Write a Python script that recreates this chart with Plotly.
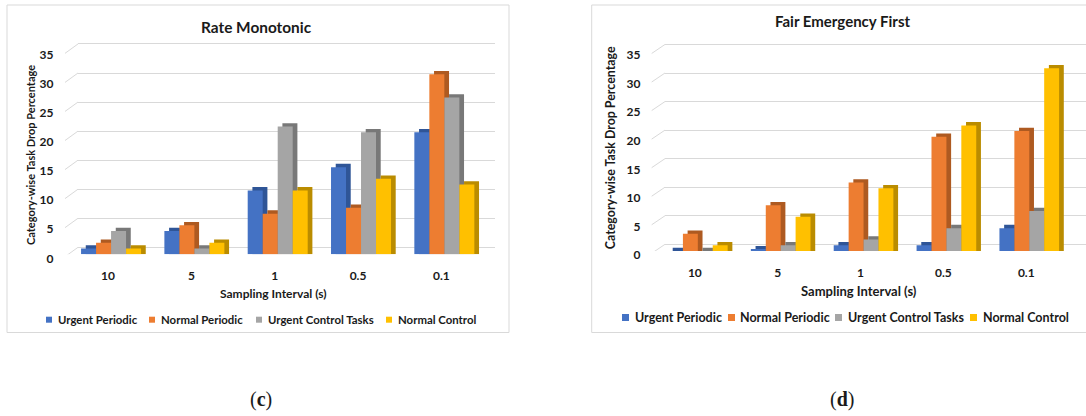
import plotly.graph_objects as go

W, H = 1086, 416

# ---------------- data ----------------
categories = ["10", "5", "1", "0.5", "0.1"]
series_names = ["Urgent Periodic", "Normal Periodic", "Urgent Control Tasks", "Normal Control"]

rm_urgent_periodic = [1, 4, 11, 15, 21]
rm_normal_periodic = [2, 5, 7, 8, 31]
rm_urgent_control = [4, 1, 22, 21, 27]
rm_normal_control = [1, 2, 11, 13, 12]

fef_urgent_periodic = [0, 0.3, 1, 1, 4]
fef_normal_periodic = [3, 8, 12, 20, 21]
fef_urgent_control = [0, 1, 2, 4, 7]
fef_normal_control = [1, 6, 11, 22, 32]

y_tick_values = [0, 5, 10, 15, 20, 25, 30, 35]

front_colors = ["#4472C4", "#ED7D31", "#A5A5A5", "#FFC000"]
side_colors = ["#2F5597", "#AE5A21", "#787878", "#BA8C00"]

TXT = "#1a1a1a"
FONT = "Lato"


def px_x(p):
    return p / W


def px_y(p):
    return (H - p) / H


fig = go.Figure()
BAR_W = 0.18


def add_panel(series, xa_bar, ya_bar, depth_x, depth_y):
    for i, (name, vals) in enumerate(zip(series_names, series)):
        off = -2 * BAR_W + i * BAR_W
        # darker side/top faces: same bar pushed back by the 3-D depth
        fig.add_trace(go.Bar(
            x=categories, y=[v + depth_y for v in vals], base=0,
            offset=off + depth_x, width=BAR_W,
            marker=dict(color=side_colors[i], line=dict(width=0)),
            xaxis=xa_bar, yaxis=ya_bar, showlegend=False, hoverinfo="skip",
        ))
        fig.add_trace(go.Bar(
            x=categories, y=vals, offset=off, width=BAR_W, name=name,
            marker=dict(color=front_colors[i], line=dict(width=0)),
            xaxis=xa_bar, yaxis=ya_bar, showlegend=False,
        ))


# grid-only subplots first so they sit underneath the bars
fig.add_trace(go.Scatter(x=[], y=[], xaxis="x", yaxis="y", showlegend=False))
rm_series = [rm_urgent_periodic, rm_normal_periodic, rm_urgent_control, rm_normal_control]
fef_series = [fef_urgent_periodic, fef_normal_periodic, fef_urgent_control, fef_normal_control]
add_panel(rm_series, "x2", "y2", 0.0564, 0.568)
fig.add_trace(go.Scatter(x=[], y=[], xaxis="x3", yaxis="y3", showlegend=False))
add_panel(fef_series, "x4", "y4", 0.0567, 0.578)

L_top, L_base, L_scale, L_grid_off = 40, 254.3, 5.81, 7.0
R_top, R_base, R_scale, R_grid_off = 40, 251.0, 5.71, 6.7
L_len = (L_base - L_top) / L_scale
R_len = (R_base - R_top) / R_scale
L_dom = [px_y(L_base), px_y(L_top)]
R_dom = [px_y(R_base), px_y(R_top)]

tick_font = dict(family=FONT, size=12, color=TXT, weight="bold")
grid_y = dict(showgrid=True, gridcolor="#D9D9D9", gridwidth=1, zeroline=False,
              showticklabels=False, ticks="", tick0=0, dtick=5, showline=False,
              fixedrange=True, automargin=False)
hidden_x = dict(visible=False, range=[0, 1], fixedrange=True, automargin=False)
cat_x = dict(type="category", range=[-0.5, 4.5], showgrid=False, showline=False,
             ticks="", tickfont=tick_font, ticklabelshift=-3, ticklabelstandoff=13,
             fixedrange=True, automargin=False, zeroline=False)
val_y = dict(showgrid=False, zeroline=False, showline=False, ticks="",
             tickvals=y_tick_values, tickfont=tick_font, ticklabelstandoff=15,
             ticklabelshift=4, fixedrange=True, automargin=False)

fig.update_layout(
    template="none",
    width=W, height=H, autosize=False,
    margin=dict(l=0, r=0, t=0, b=0, pad=0),
    paper_bgcolor="white", plot_bgcolor="rgba(0,0,0,0)",
    barmode="overlay", showlegend=False,
    font=dict(family=FONT, color=TXT),
    xaxis=dict(hidden_x, domain=[px_x(78), px_x(495)], anchor="y"),
    yaxis=dict(grid_y, domain=L_dom, anchor="x",
               range=[-L_grid_off / L_scale, L_len - L_grid_off / L_scale]),
    xaxis2=dict(cat_x, domain=[px_x(69.4), px_x(486)], anchor="y2"),
    yaxis2=dict(val_y, domain=L_dom, anchor="x2", range=[0, L_len]),
    xaxis3=dict(hidden_x, domain=[px_x(665), 1.0], anchor="y3"),
    yaxis3=dict(grid_y, domain=R_dom, anchor="x3",
                range=[-R_grid_off / R_scale, R_len - R_grid_off / R_scale]),
    xaxis4=dict(cat_x, domain=[px_x(656.4), px_x(1070.7)], anchor="y4"),
    yaxis4=dict(val_y, domain=R_dom, anchor="x4", range=[0, R_len]),
)

shapes = []
shapes.append(dict(type="rect", xref="paper", yref="paper",
                   x0=px_x(7), x1=px_x(509), y0=px_y(332.5), y1=px_y(5),
                   line=dict(color="#D9D9D9", width=1), layer="below"))
shapes.append(dict(type="rect", xref="paper", yref="paper",
                   x0=px_x(591.7), x1=px_x(1100), y0=px_y(332.5), y1=px_y(5),
                   line=dict(color="#D9D9D9", width=1), layer="below"))
# 3-D wall/floor diagonals at each gridline
for v in y_tick_values:
    shapes.append(dict(type="line", xref="paper", yref="y",
                       x0=px_x(65), x1=px_x(78), y0=v - 9.4 / L_scale, y1=v,
                       line=dict(color="#D9D9D9", width=1), layer="below"))
    shapes.append(dict(type="line", xref="paper", yref="y3",
                       x0=px_x(651.7), x1=px_x(665), y0=v - 9.0 / R_scale, y1=v,
                       line=dict(color="#D9D9D9", width=1), layer="below"))

annotations = []


def text(x, y, s, size, angle=0, xanchor="center", family=FONT, weight="bold"):
    annotations.append(dict(x=px_x(x), y=px_y(y), xref="paper", yref="paper",
                            text=s, showarrow=False, textangle=angle,
                            xanchor=xanchor, yanchor="middle",
                            font=dict(family=family, size=size, color=TXT, weight=weight)))


text(256, 27, "Rate Monotonic", 15.4)
text(842.5, 21, "Fair Emergency First", 15)
text(30.5, 155.5, "Category-wise Task Drop Percentage", 11, angle=-90)
text(610.7, 147.5, "Category-wise Task Drop Percentage", 12.4, angle=-90)
text(273, 293, "Sampling Interval (s)", 12)
text(859, 291, "Sampling Interval (s)", 13)

# legends (colour key squares + labels)
L_leg_sq = [46, 149, 256, 386]
L_leg_tx = [56, 159, 266, 396]
R_leg_sq = [622, 728, 835, 970]
R_leg_tx = [633, 738, 846, 981]
for i, name in enumerate(series_names):
    shapes.append(dict(type="rect", xref="paper", yref="paper",
                       x0=px_x(L_leg_sq[i]), x1=px_x(L_leg_sq[i] + 6),
                       y0=px_y(322.7), y1=px_y(316.7),
                       fillcolor=front_colors[i], line=dict(width=0)))
    text(L_leg_tx[i], 319.7, name, 11.4, xanchor="left")
    shapes.append(dict(type="rect", xref="paper", yref="paper",
                       x0=px_x(R_leg_sq[i]), x1=px_x(R_leg_sq[i] + 7),
                       y0=px_y(321), y1=px_y(314),
                       fillcolor=front_colors[i], line=dict(width=0)))
    text(R_leg_tx[i], 317.3, name, 12.5, xanchor="left")

text(261, 399, "(<b>c</b>)", 20, family="Liberation Serif", weight="normal")
text(842, 399, "(<b>d</b>)", 20, family="Liberation Serif", weight="normal")

fig.update_layout(shapes=shapes, annotations=annotations)

page_js = """
document.documentElement.style.margin='0';
document.body.style.margin='0';
document.documentElement.style.overflow='hidden';
document.body.style.overflow='hidden';
"""

fig.write_html("out.html", config={"displayModeBar": False}, post_script=page_js)
